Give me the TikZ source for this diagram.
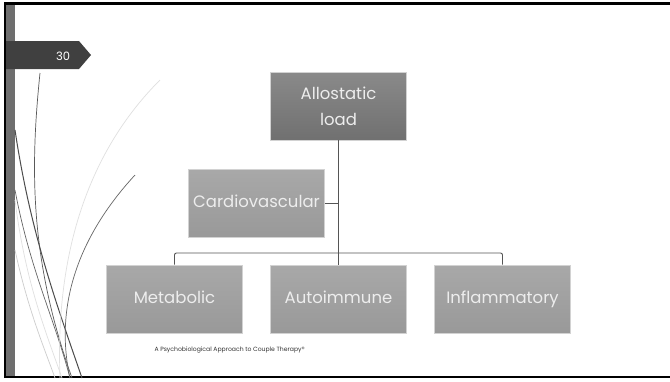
\documentclass[tikz,border=0pt]{standalone}
\usepackage{fontspec}
\setmainfont{Poppins}
\usetikzlibrary{calc}
\usetikzlibrary{positioning}

\definecolor{tabgray}{HTML}{404040}
\definecolor{bargray}{HTML}{6E6E6E}
\definecolor{linegray}{HTML}{555555}

\begin{document}
\begin{tikzpicture}[x=1pt, y=-1pt]

\pgfmathsetmacro{\BW}{136}
\pgfmathsetmacro{\BH}{68}

\tikzset{
  box/.style={draw=gray!35, line width=0.6pt, minimum width=\BW pt, minimum height=\BH pt,
    inner sep=1pt, align=center, text=white!93!black, font=\fontsize{16.5}{26}\selectfont},
  dbox/.style={box, top color=black!46, bottom color=black!56},
  lbox/.style={box, top color=black!34, bottom color=black!40, text height=12pt, text depth=3.5pt},
  conn/.style={draw=linegray, line width=0.9pt},
  deco/.style={line width=0.7pt},
}

\useasboundingbox (0,0) rectangle (670,381);
\fill [white] (0,0) rectangle (670,381);

% slide frame and side bar
\fill [bargray] (6,4) rectangle (15,377);
\draw [black, line width=2.5pt] (5,377) -- (5,3.5) -- (672,3.5);
\draw [black, line width=2.5pt] (4,377) -- (672,377);

% decorative curves
\draw [deco, black!65] (40,73) .. controls (30,170) and (30,260) .. (72,378);
\draw [deco, black!70, line width=1pt] (15,130) .. controls (30,230) and (55,300) .. (82,378);
\draw [deco, black!60] (15,190) .. controls (30,270) and (55,320) .. (70,378);
\draw [deco, black!60] (135,175) .. controls (75,240) and (55,310) .. (70,378);
\draw [deco, black!12] (160,80) .. controls (90,150) and (55,250) .. (60,378);
\draw [deco, black!12] (15,200) .. controls (25,280) and (45,330) .. (62,378);
\draw [deco, black!20] (15,250) .. controls (28,310) and (45,350) .. (55,378);

% page number tab
\fill [tabgray] (6,41) -- (79,41) -- (91,55) -- (79,69) -- (6,69) -- cycle;
\node [text=white, font=\fontsize{11.5}{12}\selectfont] (num) at (63,56) {30};

% boxes
\node [dbox] (AL) at (338.5,106) {Allostatic\\load};
\node [lbox] (CV) at (256.5,203.5) {Cardiovascular};
\node [lbox] (ME) at (174.5,299) {Metabolic};
\node [lbox] (AI) at (338.5,299) {Autoimmune};
\node [lbox] (IN) at (502.5,299) {Inflammatory};

\coordinate (bus) at (338.5,253);

% connectors
\draw [conn] (AL.south) -- (AI.north);
\draw [conn] (CV.east) -- (CV.east -| AL.south);
\draw [conn, rounded corners=2pt] (ME.north) -- (ME.north |- bus) -- (IN.north |- bus) -- (IN.north);

% footer
\node [anchor=west, text=black!80, font=\fontsize{6.1}{7}\selectfont] (foot) at (151,350)
  {A Psychobiological Approach to Couple Therapy\textregistered};

\end{tikzpicture}
\end{document}
